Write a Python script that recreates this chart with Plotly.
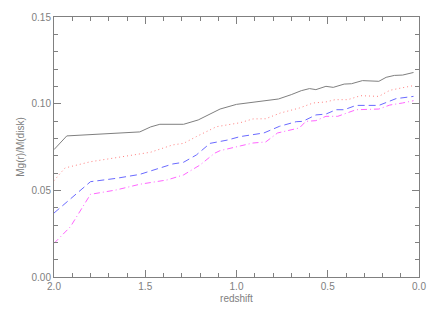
import plotly.graph_objects as go

z_gray = [2.0, 1.93, 1.53, 1.47, 1.42, 1.29, 1.21, 1.09, 1.0, 0.86, 0.77, 0.70, 0.645, 0.60, 0.565, 0.51, 0.47, 0.41, 0.37, 0.31, 0.22, 0.18, 0.135, 0.09, 0.03]
v_gray = [0.0735, 0.0814, 0.0837, 0.0866, 0.0881, 0.0881, 0.0906, 0.0969, 0.0996, 0.1013, 0.1027, 0.1052, 0.1075, 0.1087, 0.1081, 0.1100, 0.1094, 0.1113, 0.1115, 0.1133, 0.1129, 0.1152, 0.1163, 0.1165, 0.1180]

z_red = [2.0, 1.94, 1.80, 1.51, 1.47, 1.35, 1.29, 1.22, 1.11, 0.98, 0.91, 0.84, 0.76, 0.655, 0.58, 0.51, 0.46, 0.39, 0.32, 0.22, 0.16, 0.10, 0.03]
v_red = [0.0556, 0.0629, 0.0665, 0.0714, 0.0720, 0.0762, 0.0771, 0.0810, 0.0867, 0.0890, 0.0912, 0.0913, 0.0946, 0.0975, 0.1004, 0.1010, 0.1023, 0.1023, 0.1046, 0.1042, 0.1077, 0.1090, 0.1104]

z_blue = [2.0, 1.91, 1.80, 1.66, 1.53, 1.35, 1.29, 1.22, 1.145, 1.05, 0.98, 0.85, 0.765, 0.673, 0.637, 0.565, 0.51, 0.455, 0.41, 0.345, 0.22, 0.126, 0.03]
v_blue = [0.0369, 0.0450, 0.0550, 0.0569, 0.0592, 0.0652, 0.0662, 0.0704, 0.0771, 0.0790, 0.0810, 0.0831, 0.0869, 0.0896, 0.0898, 0.0935, 0.0940, 0.0965, 0.0965, 0.0990, 0.0990, 0.1029, 0.1042]

z_mag = [2.0, 1.91, 1.80, 1.66, 1.53, 1.38, 1.29, 1.20, 1.12, 1.09, 0.98, 0.91, 0.84, 0.775, 0.655, 0.62, 0.565, 0.51, 0.445, 0.345, 0.22, 0.16, 0.09, 0.03]
v_mag = [0.0194, 0.0290, 0.0477, 0.0502, 0.0535, 0.0560, 0.0589, 0.0646, 0.0714, 0.0729, 0.0756, 0.0773, 0.0779, 0.0831, 0.0860, 0.0898, 0.0902, 0.0927, 0.0927, 0.0965, 0.0969, 0.0992, 0.1004, 0.1017]

x_ticks = [2.0, 1.5, 1.0, 0.5, 0.0]
x_ticklabels = ["2.0", "1.5", "1.0", "0.5", "0.0"]
y_ticks = [0.0, 0.05, 0.10, 0.15]
y_ticklabels = ["0.00", "0.05", "0.10", "0.15"]

fig = go.Figure()
fig.add_trace(go.Scatter(x=z_gray, y=v_gray, mode="lines", line=dict(color="#7f7f7f", width=1, dash="solid")))
fig.add_trace(go.Scatter(x=z_red, y=v_red, mode="lines", line=dict(color="#ff8080", width=1, dash="1px,3px")))
fig.add_trace(go.Scatter(x=z_blue, y=v_blue, mode="lines", line=dict(color="#6a6aff", width=1, dash="7px,4px")))
fig.add_trace(go.Scatter(x=z_mag, y=v_mag, mode="lines", line=dict(color="#ff66ff", width=1, dash="6px,3px,1px,3px")))

axcol = "#808080"
font = dict(family="Liberation Sans, Arial, sans-serif", size=10, color=axcol)

fig.update_layout(
    width=436, height=312,
    margin=dict(l=54, r=17, t=17, b=35, autoexpand=False),
    paper_bgcolor="white", plot_bgcolor="white",
    showlegend=False,
    font=font,
    xaxis=dict(
        range=[2.0, 0.0], tickvals=x_ticks, ticktext=x_ticklabels, automargin=False,
        showgrid=False, zeroline=False, showline=True, linecolor=axcol, linewidth=1,
        ticks="inside", ticklen=7, tickcolor=axcol, mirror="allticks",
        minor=dict(dtick=0.1, ticks="inside", ticklen=4, tickcolor=axcol, showgrid=False),
        title=dict(text="redshift", font=font, standoff=3),
        tickfont=font,
    ),
    yaxis=dict(
        range=[0.0, 0.15], tickvals=y_ticks, ticktext=y_ticklabels, automargin=False,
        showgrid=False, zeroline=False, showline=True, linecolor=axcol, linewidth=1,
        ticks="inside", ticklen=7, tickcolor=axcol, mirror="allticks",
        minor=dict(dtick=0.01, ticks="inside", ticklen=4, tickcolor=axcol, showgrid=False),
        title=dict(text="Mg(r)/M(disk)", font=font, standoff=5),
        tickfont=font,
    ),
)

fig.write_html("out.html", config={"displayModeBar": False},
               post_script="document.body.style.margin='0';")
